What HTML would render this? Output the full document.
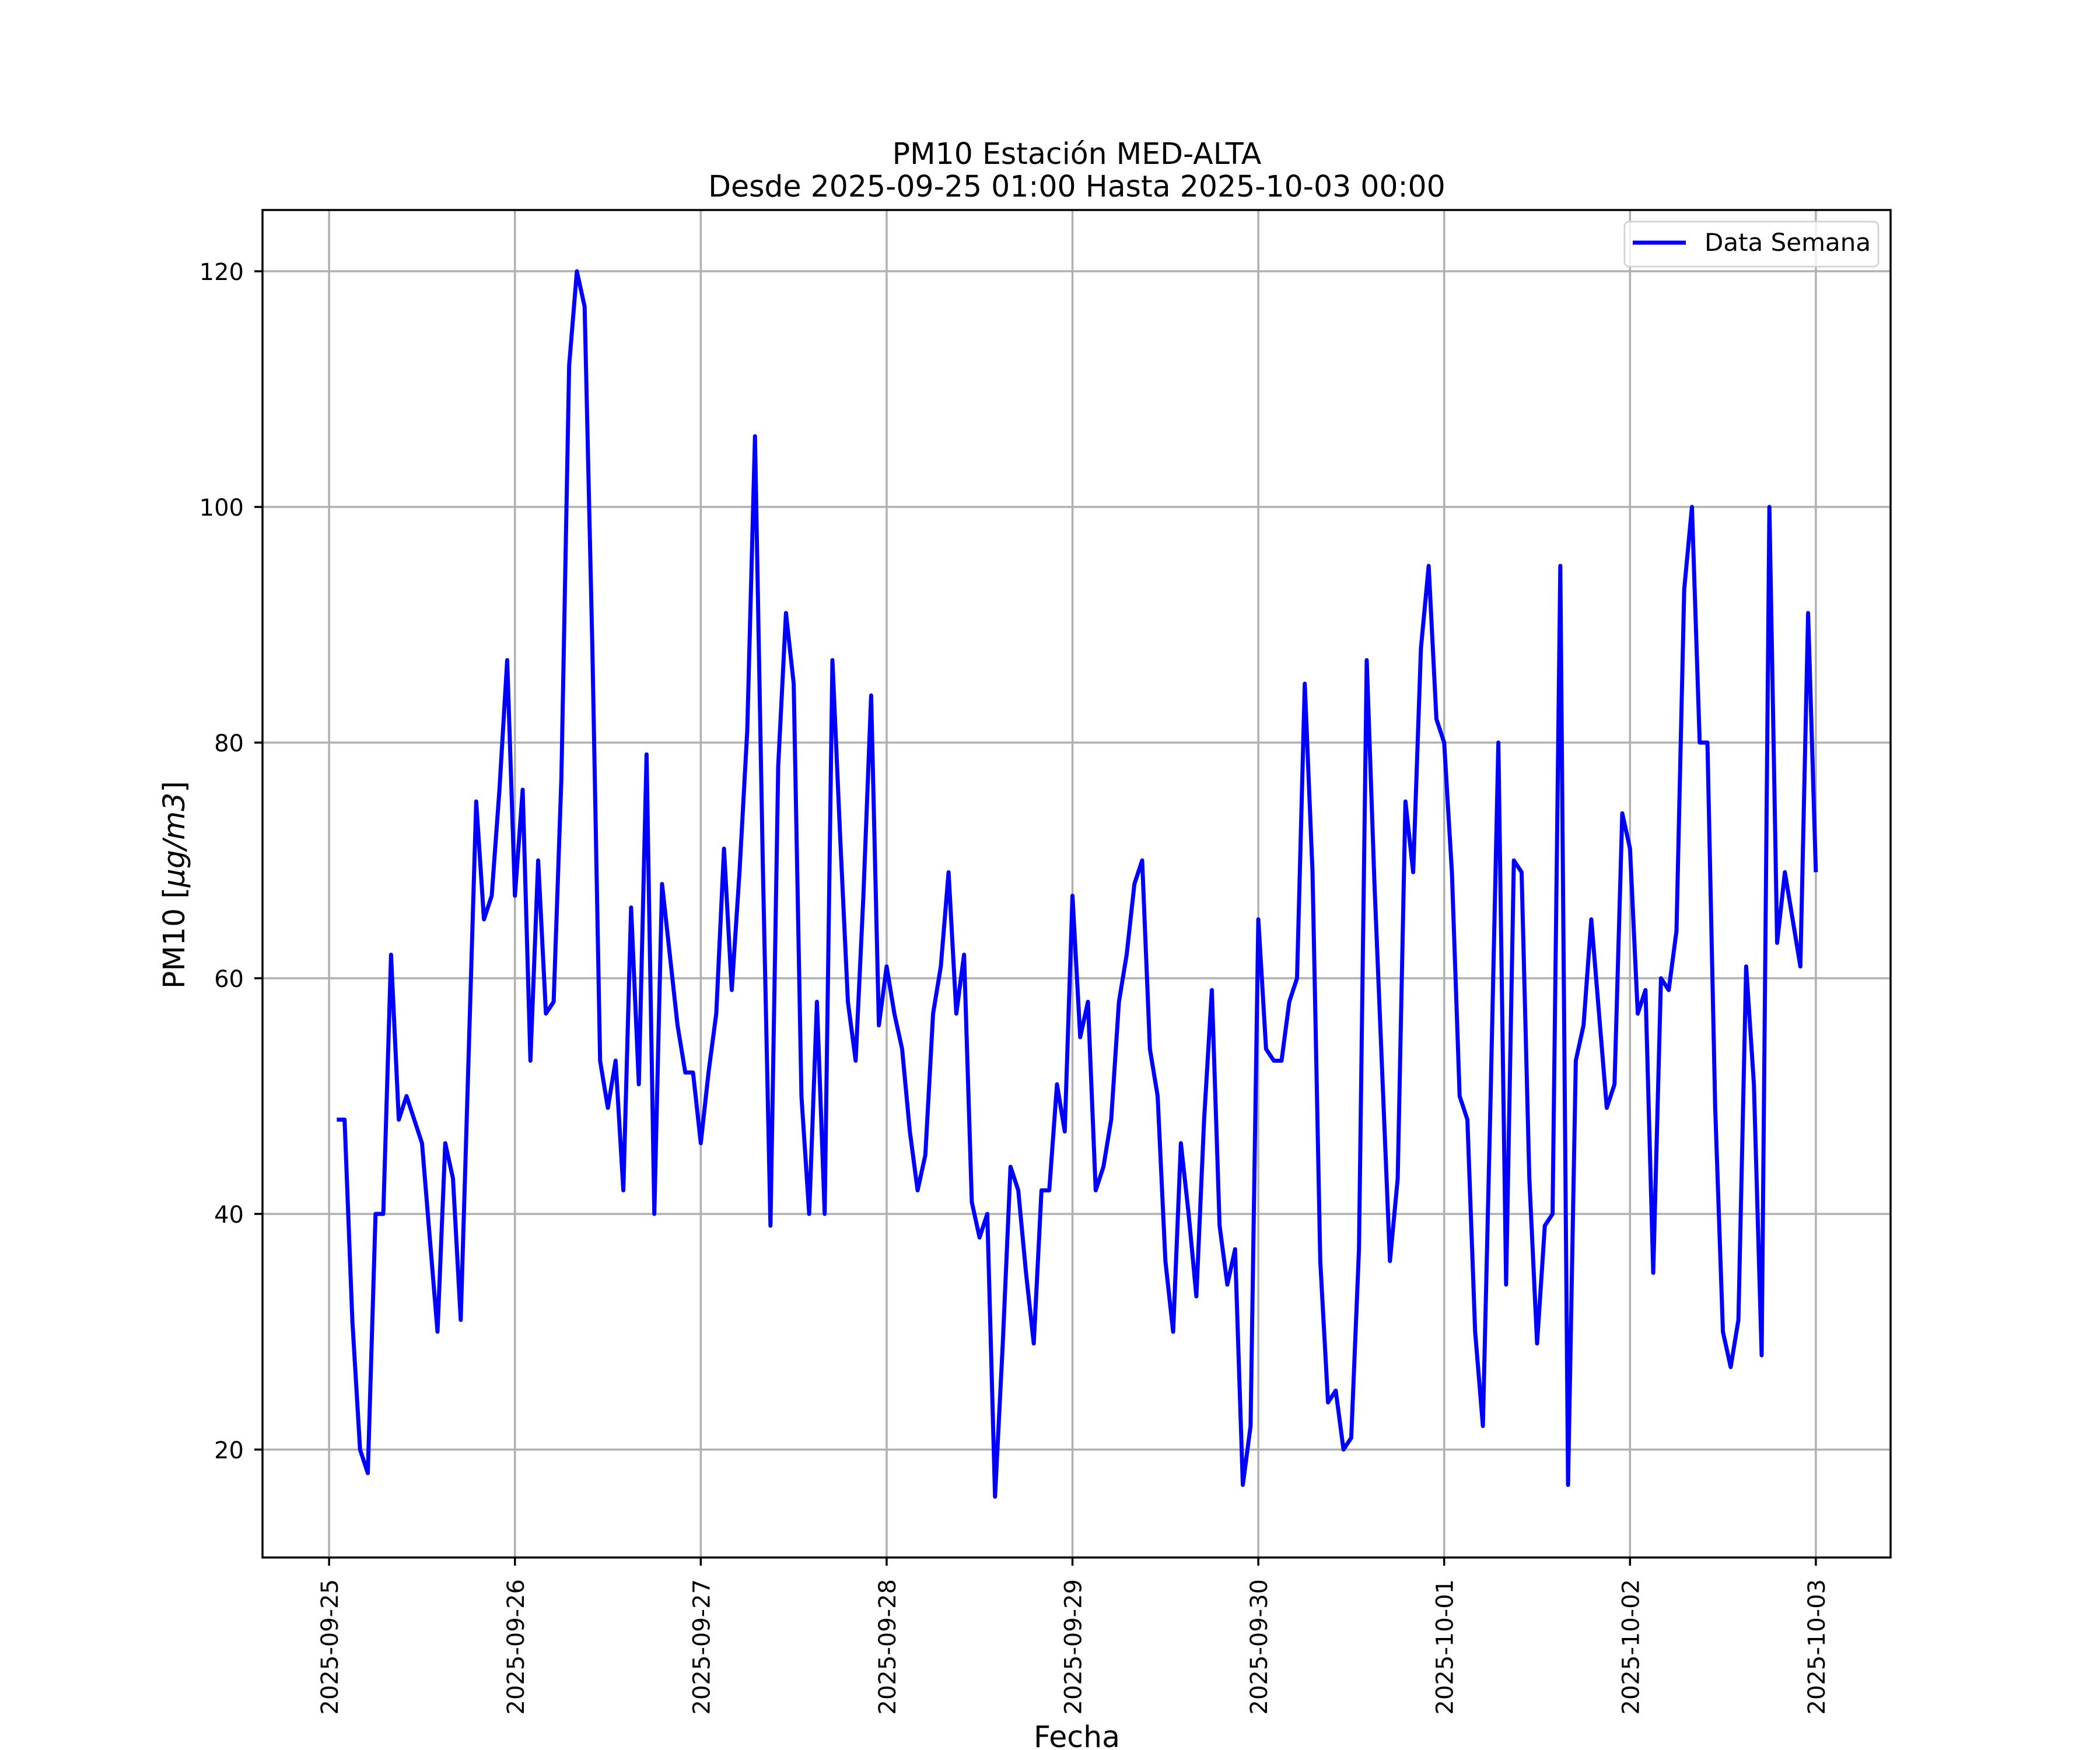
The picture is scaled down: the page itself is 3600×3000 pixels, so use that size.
<!DOCTYPE html>
<html><head><meta charset="utf-8"><style>
html,body{margin:0;padding:0;background:#fff;}
svg{display:block;font-family:"DejaVu Sans","Liberation Sans",sans-serif;}
</style></head><body>
<svg id="chart" width="3600" height="3000" viewBox="0 0 3600 3000" xmlns="http://www.w3.org/2000/svg">
<rect width="3600" height="3000" fill="#fff"/>
<g id="grid"></g>
<g id="series"></g>
<rect x="450" y="360" width="2791" height="2310" fill="none" stroke="#000" stroke-width="3.5"/>
<g id="ticks"></g>
<text x="1846" y="281" font-size="50.5" text-anchor="middle">PM10 Estación MED-ALTA</text>
<text x="1846" y="337" font-size="50.5" text-anchor="middle">Desde 2025-09-25 01:00 Hasta 2025-10-03 00:00</text>
<text x="1846" y="2995" font-size="50.5" text-anchor="middle">Fecha</text>
<text transform="translate(316,1517) rotate(-90)" font-size="50.5" text-anchor="middle">PM10 [<tspan font-style="italic">μg/m3</tspan>]</text>
<g>
<rect x="2785" y="380" width="435" height="77" rx="8" fill="#fff" fill-opacity="0.8" stroke="#d5d5d5" stroke-width="3"/>
<line x1="2799" y1="416" x2="2890" y2="416" stroke="#0000ff" stroke-width="7"/>
<text x="2922" y="430" font-size="42">Data Semana</text>
</g>
</svg>
<script>
const values = [48,48,31,20,18,40,40,62,48,50,48,46,38,30,46,43,31,53,75,65,67,76,87,67,
76,53,70,57,58,77,112,120,117,88,53,49,53,42,66,51,79,40,68,62,56,52,52,46,
52,57,71,59,69,81,106,70,39,78,91,85,50,40,58,40,87,72,58,53,67,84,56,61,
57,54,47,42,45,57,61,69,57,62,41,38,40,16,29,44,42,35,29,42,42,51,47,67,
55,58,42,44,48,58,62,68,70,54,50,36,30,46,40,33,48,59,39,34,37,17,22,65,
54,53,53,58,60,85,69,36,24,25,20,21,37,87,68,52,36,43,75,69,88,95,82,80,
69,50,48,30,22,50,80,34,70,69,43,29,39,40,95,17,53,56,65,57,49,51,74,71,
57,59,35,60,59,64,93,100,80,80,49,30,27,31,61,51,28,100,63,69,65,61,91,69];
const dateLabels = ["2025-09-25","2025-09-26","2025-09-27","2025-09-28","2025-09-29","2025-09-30","2025-10-01","2025-10-02","2025-10-03"];
const yTicks = [20,40,60,80,100,120];

const L=450,R=3241,T=360,B=2670;
const hMin=-8.6,hMax=201.65,vMin=10.84,vMax=125.2;
const xs=h=>L+(h-hMin)/(hMax-hMin)*(R-L);
const ys=v=>B-(v-vMin)/(vMax-vMin)*(B-T);
const NS="http://www.w3.org/2000/svg";
const grid=document.getElementById('grid'),ticks=document.getElementById('ticks'),series=document.getElementById('series');
function mk(tag,attrs,parent){const e=document.createElementNS(NS,tag);for(const k in attrs)e.setAttribute(k,attrs[k]);parent.appendChild(e);return e;}

dateLabels.forEach((d,i)=>{
  const x=xs(i*24);
  const g=mk('line',{x1:x,x2:x,y1:T,y2:B,stroke:'#b0b0b0','stroke-width':3.5},grid);
  
  
  const t=mk('line',{x1:x,x2:x,y1:B,y2:B+14,stroke:'#000','stroke-width':3.5},ticks);
  
  
  const tx=mk('text',{transform:`translate(${x+15},${B+37}) rotate(-90)`,'font-size':40,'text-anchor':'end'},ticks);
  tx.textContent=d;
  
  
});
yTicks.forEach(v=>{
  const y=ys(v);
  const g=mk('line',{x1:L,x2:R,y1:y,y2:y,stroke:'#b0b0b0','stroke-width':3.5},grid);
  
  
  const t=mk('line',{x1:L-14,x2:L,y1:y,y2:y,stroke:'#000','stroke-width':3.5},ticks);
  
  
  const tx=mk('text',{x:L-32,y:y+15,'font-size':40,'text-anchor':'end'},ticks);
  tx.textContent=v;
  
  
});
const pts=values.map((v,i)=>xs(i+1).toFixed(2)+','+ys(v).toFixed(2)).join(' ');
const line=mk('polyline',{points:pts,fill:'none',stroke:'#0000ff','stroke-width':7,'stroke-linejoin':'round'},series);


</script>
</body></html>
